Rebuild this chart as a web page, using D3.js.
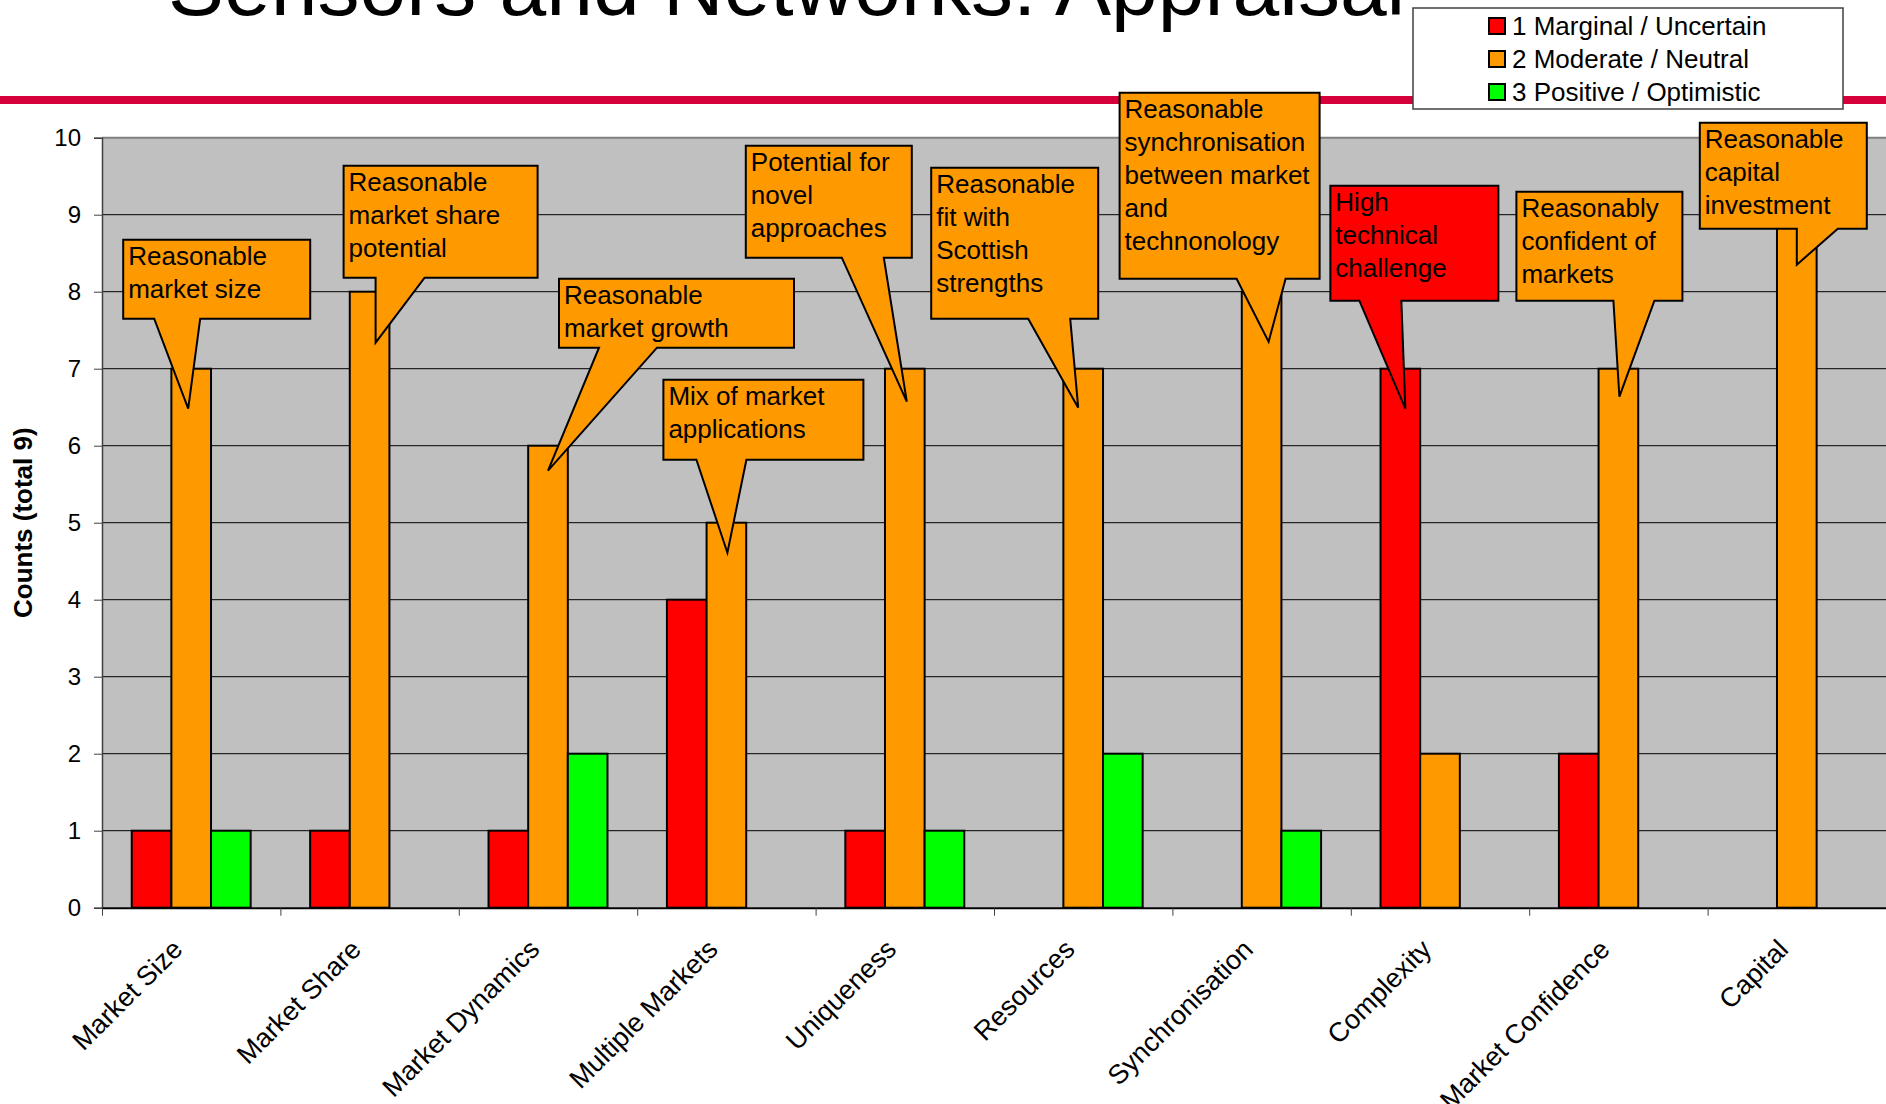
<!DOCTYPE html>
<html>
<head>
<meta charset="utf-8">
<script src="https://cdn.jsdelivr.net/npm/d3@7"></script>
<style>
  body { margin: 0; background: #fff; }
  svg { display: block; font-family: "Liberation Sans", Arial, sans-serif; }
</style>
</head>
<body>
<svg id="chart"></svg>
<script>
// data
var categories = ["Market Size", "Market Share", "Market Dynamics", "Multiple Markets", "Uniqueness",
  "Resources", "Synchronisation", "Complexity", "Market Confidence", "Capital"];
var seriesNames = ["1 Marginal / Uncertain", "2 Moderate / Neutral", "3 Positive / Optimistic"];
var marginal = [1, 1, 1, 4, 1, 0, 0, 7, 2, 0];
var moderate = [7, 8, 6, 5, 7, 7, 8, 2, 7, 9];
var positive = [1, 0, 2, 0, 1, 2, 1, 0, 0, 0];
var yTicks = [0, 1, 2, 3, 4, 5, 6, 7, 8, 9, 10];
var titleText = "Sensors and Networks: Appraisal";
var yTitle = "Counts (total 9)";

// callout notes: which bar they point at and their text
var notes = [
  { cat: 0, s: 1, lines: ["Reasonable", "market size"] },
  { cat: 1, s: 1, lines: ["Reasonable", "market share", "potential"] },
  { cat: 2, s: 1, lines: ["Reasonable", "market growth"] },
  { cat: 3, s: 1, lines: ["Mix of market", "applications"] },
  { cat: 4, s: 1, lines: ["Potential for", "novel", "approaches"] },
  { cat: 5, s: 1, lines: ["Reasonable", "fit with", "Scottish", "strengths"] },
  { cat: 6, s: 1, lines: ["Reasonable", "synchronisation", "between market", "and", "technonology"] },
  { cat: 7, s: 0, lines: ["High", "technical", "challenge"] },
  { cat: 8, s: 1, lines: ["Reasonably", "confident of", "markets"] },
  { cat: 9, s: 1, lines: ["Reasonable", "capital", "investment"] }
];
// callout layout (px): tip offset from bar top, box relative to tip, wedge base relative to tip x
var noteLayout = [
  { tip: [-3, 40], box: [-65, -169, 187, 79], base: [-34, 12] },
  { tip: [6, 51], box: [-32, -177, 194, 112], base: [0, 49] },
  { tip: [0, 25], box: [11, -192, 235, 69], base: [51, 109] },
  { tip: [1, 30], box: [-64, -173, 200, 80], base: [-31, 19] },
  { tip: [2, 33], box: [-161, -256, 166, 112], base: [-65, -23] },
  { tip: [-5, 39], box: [-147, -240, 167, 151], base: [-50, -8] },
  { tip: [7, 50], box: [-149, -249, 200, 186], base: [-32, 17] },
  { tip: [5, 40], box: [-75, -223, 168, 115], base: [-46, -4] },
  { tip: [1, 28], box: [-103, -205, 166, 109], base: [-6, 35] },
  { tip: [0, 50], box: [-97, -142, 167, 106], base: [0, 41] }
];

var colors = ["#FF0000", "#FF9900", "#00FF00"];
var W = 1886, H = 1104;
var plot = { left: 102, right: 1886, top: 137.7, bottom: 907.7 };

var svg = d3.select("#chart").attr("width", W).attr("height", H);

var series = [marginal, moderate, positive];

var x = d3.scaleBand().domain(categories).range([plot.left, plot.right]).paddingInner(0).paddingOuter(0);
var xInner = d3.scaleBand().domain([0, 1, 2])
  .range([x.bandwidth() / 6, x.bandwidth() * 5 / 6]);
var y = d3.scaleLinear().domain([0, 10]).range([plot.bottom, plot.top]);

// title (cut at top of slide)
svg.append("text")
  .attr("x", 168).attr("y", 15)
  .attr("font-size", 84)
  .attr("fill", "#000")
  .text(titleText);

// red rule
svg.append("rect")
  .attr("x", 0).attr("y", 96).attr("width", W).attr("height", 8)
  .attr("fill", "#D6003A");

// plot background
svg.append("rect")
  .attr("x", plot.left).attr("y", plot.top)
  .attr("width", plot.right - plot.left).attr("height", plot.bottom - plot.top)
  .attr("fill", "#C0C0C0");

svg.append("line")
  .attr("x1", plot.left).attr("x2", plot.right)
  .attr("y1", plot.top).attr("y2", plot.top)
  .attr("stroke", "#808080").attr("stroke-width", 2);

// gridlines
svg.append("g").selectAll("line")
  .data(yTicks.filter(d => d > 0 && d < 10))
  .enter().append("line")
  .attr("x1", plot.left).attr("x2", plot.right)
  .attr("y1", d => y(d)).attr("y2", d => y(d))
  .attr("stroke", "#000").attr("stroke-width", 1);

// y axis
var yAxis = d3.axisLeft(y).tickValues(yTicks).tickSize(8).tickPadding(13).tickFormat(d3.format("d"));
var gy = svg.append("g").attr("transform", `translate(${plot.left},0)`).call(yAxis);
gy.select(".domain").attr("stroke", "#404040").attr("stroke-width", 1.5);
gy.selectAll(".tick line").attr("stroke", "#404040");
gy.selectAll(".tick text").attr("font-size", 24).attr("font-family", "Liberation Sans, Arial, sans-serif").attr("fill", "#000");

svg.append("text")
  .attr("transform", `translate(23,${(plot.top + plot.bottom) / 2}) rotate(-90)`)
  .attr("text-anchor", "middle")
  .attr("dy", "0.35em")
  .attr("font-size", 26)
  .attr("font-weight", "bold")
  .text(yTitle);

// bars
var groups = svg.append("g").selectAll("g")
  .data(categories)
  .enter().append("g")
  .attr("transform", d => `translate(${x(d)},0)`);

groups.selectAll("rect")
  .data((d, i) => series.map((s, k) => ({ k: k, v: s[i] })).filter(e => e.v > 0))
  .enter().append("rect")
  .attr("x", d => xInner(d.k))
  .attr("width", xInner.bandwidth())
  .attr("y", d => y(d.v))
  .attr("height", d => y(0) - y(d.v))
  .attr("fill", d => colors[d.k])
  .attr("stroke", "#000")
  .attr("stroke-width", 2);

// x axis: ticks at category boundaries
var xb = d3.scaleLinear().domain([0, categories.length]).range([plot.left, plot.right]);
var xAxis = d3.axisBottom(xb).tickValues(d3.range(0, categories.length)).tickSize(8).tickSizeOuter(0).tickFormat("");
var gx = svg.append("g").attr("transform", `translate(0,${plot.bottom})`).call(xAxis);
gx.select(".domain").attr("stroke", "#000").attr("stroke-width", 2);
gx.selectAll(".tick line").attr("stroke", "#404040");

svg.append("g").selectAll("text")
  .data(categories)
  .enter().append("text")
  .attr("transform", d => `translate(${x(d) + x.bandwidth() / 2 - 7},951) rotate(-45)`)
  .attr("text-anchor", "end")
  .attr("font-size", 27)
  .text(d => d);

// callouts
var cg = svg.append("g");
notes.forEach(function (n, i) {
  var L = noteLayout[i];
  var v = series[n.s][n.cat];
  var tx = x(categories[n.cat]) + xInner(n.s) + xInner.bandwidth() / 2 + L.tip[0];
  var ty = y(v) + L.tip[1];
  var bx = tx + L.box[0], by = ty + L.box[1], bw = L.box[2], bh = L.box[3];
  var b0 = tx + L.base[0], b1 = tx + L.base[1];
  var p = d3.path();
  p.moveTo(bx, by);
  p.lineTo(bx + bw, by);
  p.lineTo(bx + bw, by + bh);
  p.lineTo(b1, by + bh);
  p.lineTo(tx, ty);
  p.lineTo(b0, by + bh);
  p.lineTo(bx, by + bh);
  p.closePath();
  cg.append("path")
    .attr("d", p.toString())
    .attr("fill", colors[n.s])
    .attr("stroke", "#000")
    .attr("stroke-width", 2)
    .attr("stroke-linejoin", "miter");
  cg.append("g").selectAll("text")
    .data(n.lines)
    .enter().append("text")
    .attr("x", bx + 5)
    .attr("y", (d, j) => by + 25 + j * 33)
    .attr("font-size", 26)
    .attr("fill", "#000")
    .text(d => d);
});

// legend
var lg = svg.append("g");
lg.append("rect")
  .attr("x", 1413).attr("y", 8).attr("width", 430).attr("height", 101)
  .attr("fill", "#fff").attr("stroke", "#404040").attr("stroke-width", 1.5);
var items = lg.selectAll("g.item")
  .data(seriesNames)
  .enter().append("g")
  .attr("class", "item")
  .attr("transform", (d, i) => `translate(1489,${26 + i * 33})`);
items.append("rect")
  .attr("x", 0).attr("y", -8).attr("width", 16).attr("height", 16)
  .attr("fill", (d, i) => colors[i])
  .attr("stroke", "#000").attr("stroke-width", 2);
items.append("text")
  .attr("x", 23).attr("y", 9)
  .attr("font-size", 26)
  .text(d => d);
</script>
</body>
</html>
